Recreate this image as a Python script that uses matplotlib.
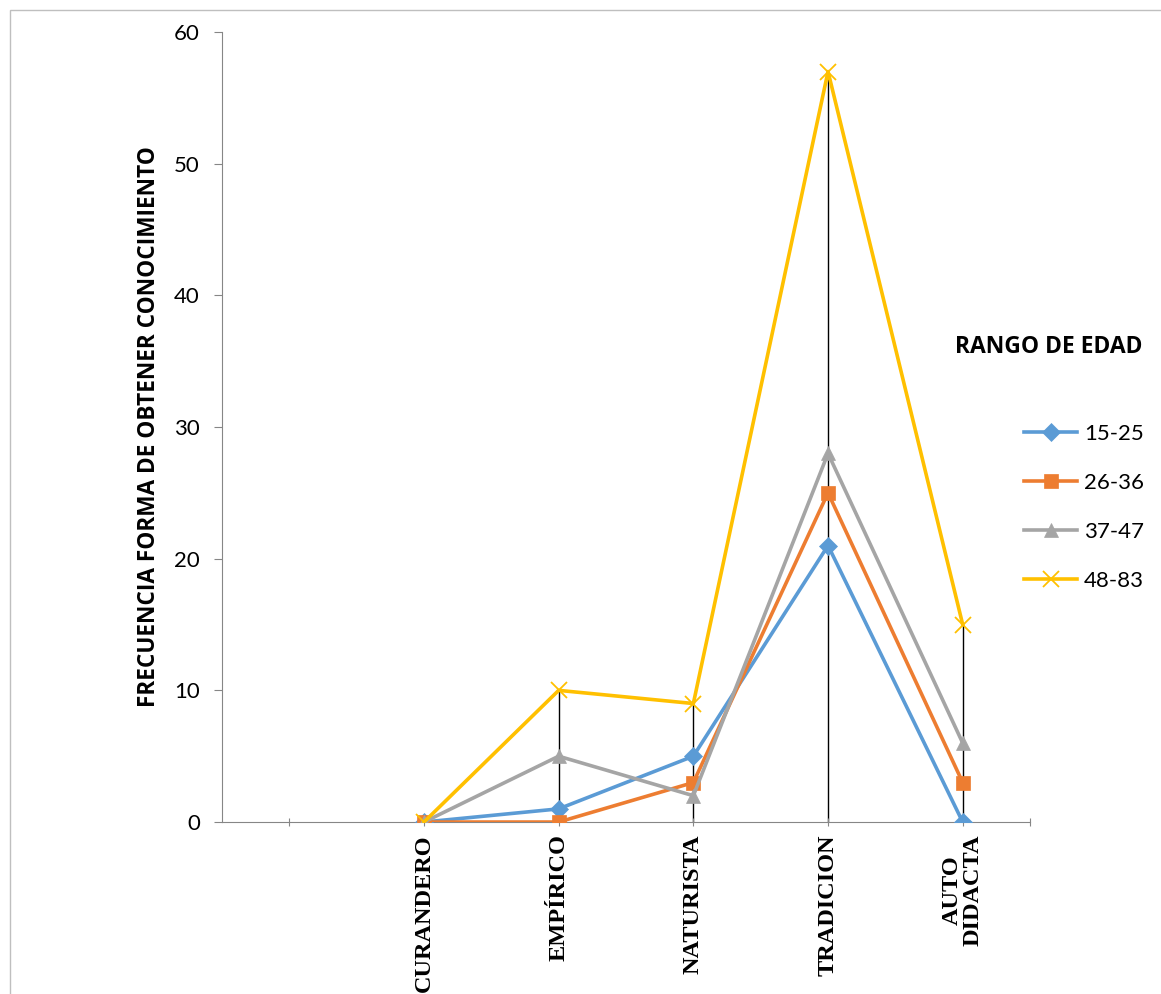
import numpy as np
import matplotlib.pyplot as plt
from matplotlib.patches import Rectangle

categorias = ["", "CURANDERO", "EMPÍRICO", "NATURISTA", "TRADICION", "AUTO\nDIDACTA"]
rangos = ["15-25", "26-36", "37-47", "48-83"]
r_15_25 = [0, 1, 5, 21, 0]
r_26_36 = [0, 0, 3, 25, 3]
r_37_47 = [0, 5, 2, 28, 6]
r_48_83 = [0, 10, 9, 57, 15]

series = [r_15_25, r_26_36, r_37_47, r_48_83]
colores = ["#5B9BD5", "#ED7D31", "#A5A5A5", "#FFC000"]
marcadores = ["D", "s", "^", "x"]
tamanos = [9, 10, 10, 12]

fig = plt.figure(figsize=(11.61, 9.94), dpi=100)
ax = fig.add_axes([0.1912, 0.1730, 0.6960, 0.7948])

x = np.arange(1, len(categorias))

# drop lines from the highest series down to zero
tope = np.max(np.array(series), axis=0)
ax.vlines(x, 0, tope, color="black", lw=1, zorder=1)

for nombre, valores, c, m, s in zip(rangos, series, colores, marcadores, tamanos):
    ax.plot(x, valores, color=c, lw=2.6, marker=m, markersize=s,
            markeredgewidth=1.3 if m == "x" else 0.5, label=nombre, zorder=3)

ax.set_xlim(-0.5, 5.5)
ax.set_ylim(0, 60)
ax.set_yticks(range(0, 61, 10))
ax.set_xticks([0, 1, 2, 3, 4, 5, 5.5])
ax.set_xticklabels(categorias + [""], rotation=90, fontsize=17.5,
                   family="Liberation Serif", fontweight="bold", linespacing=0.95)
ax.tick_params(axis="y", labelsize=16, length=6, color="#868686", pad=10)
ax.tick_params(axis="x", length=6, color="#868686", direction="inout", pad=6)
for lab in ax.get_yticklabels():
    lab.set_family("Lato")
for lab in ax.get_xticklabels():
    lab.set_verticalalignment("top")

for lado in ["top", "right"]:
    ax.spines[lado].set_visible(False)
ax.spines["left"].set_color("#868686")
ax.spines["bottom"].set_color("#868686")
ax.spines["bottom"].set_zorder(0)

ax.set_ylabel("FRECUENCIA FORMA DE OBTENER CONOCIMIENTO", fontsize=16.3,
              fontweight="bold", family="Open Sans", labelpad=9)

leg = fig.legend(loc="upper left", bbox_to_anchor=(1024 / 1161, 1 - 424 / 994),
                 frameon=False, prop={"family": "Lato", "size": 16},
                 handlelength=2.4, labelspacing=1.3, handletextpad=0.3,
                 borderpad=0, borderaxespad=0)
fig.text(955 / 1161, 1 - 347 / 994, "RANGO DE EDAD", fontsize=16.5, fontweight="bold",
         family="Open Sans", va="center")

fig.patches.append(Rectangle((10 / 1161, -0.1), 1.2, 1.1 - 10 / 994,
                             transform=fig.transFigure, fill=False,
                             edgecolor="#BFBFBF", lw=1))

fig.savefig("out.png", dpi=100)
